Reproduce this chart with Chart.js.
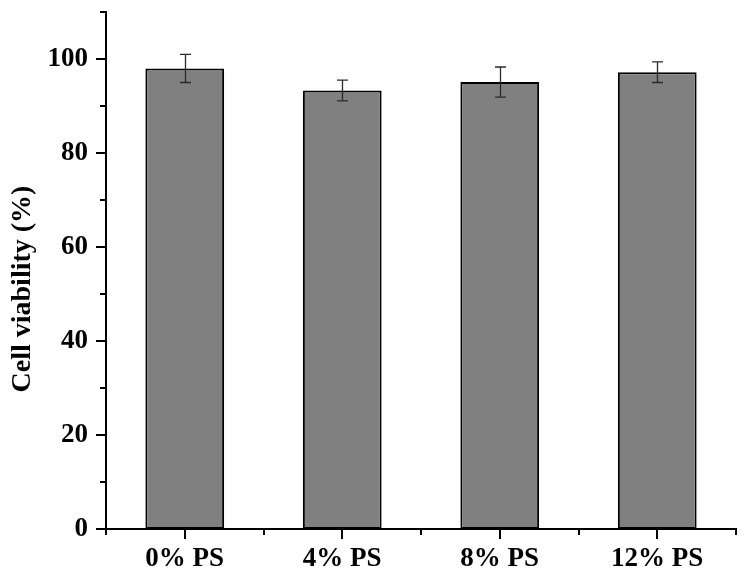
<!DOCTYPE html>
<html>
<head>
<meta charset="utf-8">
<script src="https://cdn.jsdelivr.net/npm/chart.js@4"></script>
<style>
html,body{margin:0;padding:0;background:#fff;}
#wrap{width:746px;height:578px;}
</style>
</head>
<body>
<div id="wrap"><canvas id="c" width="746" height="578"></canvas></div>
<script>
const categories = ['0% PS', '4% PS', '8% PS', '12% PS'];
const viability = [98.0, 93.3, 95.1, 97.2];
const errors = [3.0, 2.2, 3.2, 2.2];
const yTicks = [0, 20, 40, 60, 80, 100];
const yMinorTicks = [10, 30, 50, 70, 90, 110];
const yMax = 110;
const yTitle = 'Cell viability (%)';

const FONT = "'Liberation Serif', 'Times New Roman', Times, serif";

const extras = {
  id: 'extras',
  afterDatasetsDraw(chart) {
    const ctx = chart.ctx;
    const y = chart.scales.y;
    const meta = chart.getDatasetMeta(0);
    ctx.save();
    ctx.strokeStyle = '#2a2a2a';
    ctx.lineWidth = 1.3;
    meta.data.forEach((bar, i) => {
      const cx = Math.round(bar.x) + 0.5;
      const yt = y.getPixelForValue(viability[i] + errors[i]);
      const yb = y.getPixelForValue(viability[i] - errors[i]);
      ctx.beginPath();
      ctx.moveTo(cx, yt); ctx.lineTo(cx, yb);
      ctx.moveTo(cx - 5.5, yt); ctx.lineTo(cx + 5.5, yt);
      ctx.moveTo(cx - 5.5, yb); ctx.lineTo(cx + 5.5, yb);
      ctx.stroke();
    });
    ctx.restore();
  },
  afterDraw(chart) {
    const ctx = chart.ctx;
    const x = chart.scales.x, y = chart.scales.y;
    const area = chart.chartArea;
    ctx.save();
    ctx.strokeStyle = '#000';
    ctx.lineWidth = 2;
    ctx.beginPath();
    yTicks.forEach(v => {
      const py = Math.round(y.getPixelForValue(v));
      ctx.moveTo(area.left - 10, py); ctx.lineTo(area.left, py);
    });
    yMinorTicks.forEach(v => {
      const py = Math.round(y.getPixelForValue(v));
      ctx.moveTo(area.left - 6, py); ctx.lineTo(area.left, py);
    });
    const n = categories.length;
    const w = (area.right - area.left) / n;
    for (let i = 0; i < n; i++) {
      const px = Math.round(x.getPixelForValue(i));
      ctx.moveTo(px, area.bottom); ctx.lineTo(px, area.bottom + 10);
    }
    for (let i = 0; i <= n; i++) {
      const px = Math.round(area.left + i * w);
      ctx.moveTo(px, area.bottom); ctx.lineTo(px, area.bottom + 6);
    }
    ctx.stroke();
    // y-axis title
    ctx.fillStyle = '#000';
    ctx.font = "bold 28px " + FONT;
    ctx.textAlign = 'center';
    ctx.textBaseline = 'alphabetic';
    ctx.translate(29.5, 289);
    ctx.rotate(-Math.PI / 2);
    ctx.fillText(yTitle, 0, 0);
    ctx.restore();
  }
};

function draw() {
  new Chart(document.getElementById('c'), {
    type: 'bar',
    data: {
      labels: categories,
      datasets: [{
        data: viability,
        backgroundColor: '#808080',
        borderColor: '#000',
        borderWidth: 2,
        borderSkipped: false,
        barPercentage: 0.5,
        categoryPercentage: 1.0
      }]
    },
    options: {
      responsive: false,
      animation: false,
      devicePixelRatio: 1,
      layout: { padding: { top: 12, right: 10, left: 0, bottom: 0 } },
      plugins: { legend: { display: false }, tooltip: { enabled: false } },
      scales: {
        x: {
          grid: { display: false, drawTicks: false },
          border: { display: true, color: '#000', width: 2 },
          ticks: { color: '#000', padding: 14, font: { family: FONT, size: 27, weight: 'bold' } },
          afterFit(scale) { scale.height = 49; scale.paddingLeft = 0; scale.paddingRight = 0; }
        },
        y: {
          min: 0, max: yMax,
          grid: { display: false, drawTicks: false },
          border: { display: true, color: '#000', width: 2 },
          afterBuildTicks(scale) { scale.ticks = yTicks.map(v => ({ value: v })); },
          ticks: { color: '#000', padding: 18, font: { family: FONT, size: 27, weight: 'bold' } },
          title: { display: false },
          afterFit(scale) { scale.width = 106; scale.paddingTop = 0; scale.paddingBottom = 0; }
        }
      }
    },
    plugins: [extras]
  });
}

if (document.fonts && document.fonts.load) {
  Promise.all([
    document.fonts.load("bold 27px 'Liberation Serif'"),
    document.fonts.load("bold 28px 'Liberation Serif'")
  ]).then(draw, draw);
} else {
  draw();
}
</script>
</body>
</html>
